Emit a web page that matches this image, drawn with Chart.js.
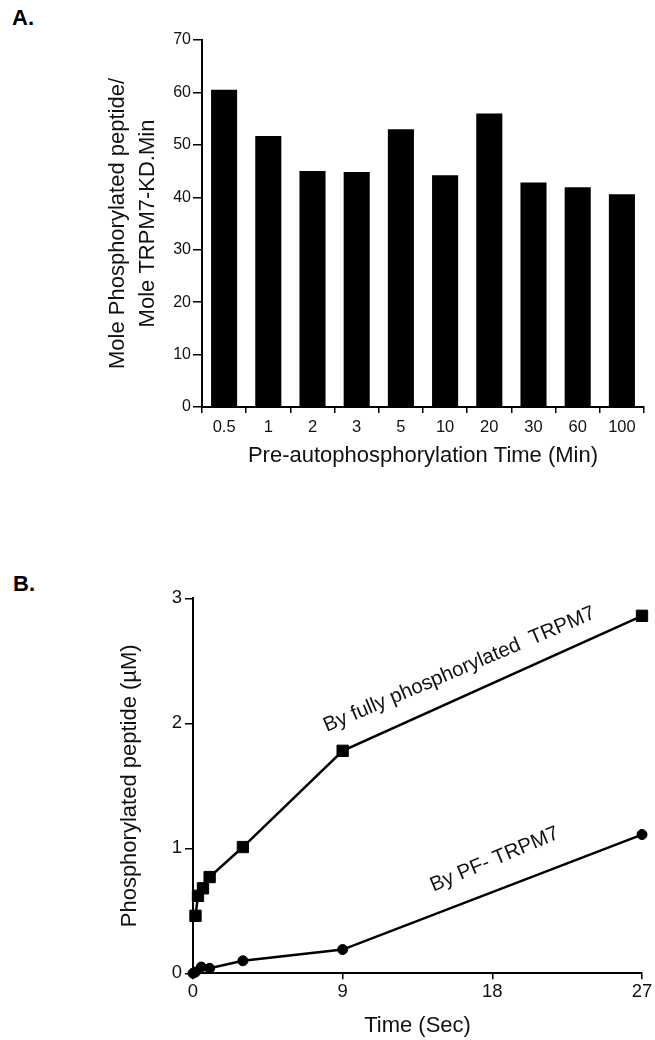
<!DOCTYPE html>
<html>
<head>
<meta charset="utf-8">
<script src="https://cdn.jsdelivr.net/npm/chart.js@4.4.1/dist/chart.umd.min.js"></script>
<style>
  html, body { margin: 0; padding: 0; background: #fff; }
  body { width: 655px; height: 1040px; position: relative; overflow: hidden; font-family: Arial, "Liberation Sans", sans-serif; }
  .panel { position: absolute; left: 0; width: 655px; }
  #wrapA { top: 0; height: 480px; }
  #wrapB { top: 540px; height: 500px; }
  .lbl { position: absolute; font-weight: bold; font-size: 22px; color: #000; line-height: 1; }
</style>
</head>
<body>
<div class="lbl" style="left:12px; top:7px;">A.</div>
<div class="lbl" style="left:13px; top:573px;">B.</div>
<div id="wrapA" class="panel"><canvas id="chartA" width="655" height="480"></canvas></div>
<div id="wrapB" class="panel"><canvas id="chartB" width="655" height="500"></canvas></div>
<script>
// ---------- Panel A data ----------
const preTimes = ['0.5', '1', '2', '3', '5', '10', '20', '30', '60', '100'];
const moleRate = [60.5, 51.7, 45.0, 44.8, 53.0, 44.2, 56.0, 42.8, 41.9, 40.6];
const yTicksA = [0, 10, 20, 30, 40, 50, 60, 70];

// ---------- Panel B data ----------
const fullTimes = [0.15, 0.3, 0.6, 1, 3, 9, 27];
const fullValues = [0.46, 0.62, 0.68, 0.77, 1.01, 1.78, 2.86];
const pfTimes = [0, 0.15, 0.5, 1, 3, 9, 27];
const pfValues = [0, 0.01, 0.05, 0.04, 0.10, 0.19, 1.11];
const xTicksB = [0, 9, 18, 27];
const yTicksB = [0, 1, 2, 3];
const annoText = ['By fully phosphorylated  TRPM7', 'By PF- TRPM7'];
const annoX = [8.05, 14.46];
const annoY = [1.93, 0.653];

const FONT = 'Arial, "Liberation Sans", sans-serif';
const TXT = '#111';

new Chart(document.getElementById('chartA'), {
  type: 'bar',
  data: {
    labels: preTimes,
    datasets: [{
      data: moleRate,
      backgroundColor: '#000',
      borderWidth: 0,
      barPercentage: 0.59,
      categoryPercentage: 1.0
    }]
  },
  options: {
    responsive: false,
    animation: false,
    events: [],
    layout: { padding: { left: 0, right: 11, top: 40, bottom: 0 } },
    plugins: { legend: { display: false }, tooltip: { enabled: false } },
    scales: {
      x: {
        offset: true,
        grid: { offset: true, drawOnChartArea: false, drawTicks: true, tickLength: 6, color: '#000', lineWidth: 1.5 },
        border: { color: '#000', width: 2 },
        ticks: { color: TXT, font: { family: FONT, size: 16.5 }, padding: 5, maxRotation: 0 },
        title: { display: true, text: 'Pre-autophosphorylation Time (Min)', color: TXT,
                 font: { family: FONT, size: 22 }, padding: { top: 0, bottom: 10.8 } },
        afterFit: s => { s.height = 73; }
      },
      y: {
        min: 0, max: 70,
        afterBuildTicks: s => { s.ticks = yTicksA.map(v => ({ value: v })); },
        grid: { drawOnChartArea: false, drawTicks: true, tickLength: 9, color: '#000', lineWidth: 1.5 },
        border: { color: '#000', width: 2 },
        ticks: { color: TXT, font: { family: FONT, size: 16 }, padding: 2 },
        title: { display: true, text: ['Mole Phosphorylated peptide/', 'Mole TRPM7-KD.Min'], color: TXT,
                 font: { family: FONT, size: 22, lineHeight: 1.364 }, padding: { top: 103, bottom: 0 } },
        afterFit: s => { s.width = 202; }
      }
    }
  }
});

const annoPlugin = {
  id: 'anno',
  afterDatasetsDraw(chart) {
    const { ctx, scales } = chart;
    ctx.save();
    ctx.fillStyle = TXT;
    ctx.font = '20.5px ' + FONT;
    ctx.textAlign = 'left';
    ctx.textBaseline = 'alphabetic';
    annoText.forEach((t, i) => {
      const px = scales.x.getPixelForValue(annoX[i]);
      const py = scales.y.getPixelForValue(annoY[i]);
      ctx.save();
      ctx.translate(px, py);
      ctx.rotate(-23 * Math.PI / 180);
      ctx.fillText(t, 0, 0);
      ctx.restore();
    });
    ctx.restore();
  }
};

new Chart(document.getElementById('chartB'), {
  type: 'scatter',
  data: {
    datasets: [
      {
        data: fullTimes.map((t, i) => ({ x: t, y: fullValues[i] })),
        showLine: true,
        borderColor: '#000',
        backgroundColor: '#000',
        borderWidth: 2.5,
        pointStyle: 'rect',
        pointRadius: 8,
        pointBorderWidth: 1,
        clip: false
      },
      {
        data: pfTimes.map((t, i) => ({ x: t, y: pfValues[i] })),
        showLine: true,
        borderColor: '#000',
        backgroundColor: '#000',
        borderWidth: 2.5,
        pointStyle: 'circle',
        pointRadius: 5,
        pointBorderWidth: 1,
        clip: false
      }
    ]
  },
  options: {
    responsive: false,
    animation: false,
    events: [],
    layout: { padding: { left: 0, right: 13, top: 58.3, bottom: 0 } },
    plugins: { legend: { display: false }, tooltip: { enabled: false } },
    scales: {
      x: {
        type: 'linear', min: 0, max: 27,
        afterBuildTicks: s => { s.ticks = xTicksB.map(v => ({ value: v })); },
        grid: { drawOnChartArea: false, drawTicks: true, tickLength: 6, color: '#000', lineWidth: 1.5 },
        border: { color: '#000', width: 2 },
        ticks: { color: TXT, font: { family: FONT, size: 18.5 }, padding: 2, maxRotation: 0 },
        title: { display: true, text: 'Time (Sec)', color: TXT,
                 font: { family: FONT, size: 22 }, padding: { top: 0, bottom: 0.8 } },
        afterFit: s => { s.height = 66.7; }
      },
      y: {
        type: 'linear', min: 0, max: 3,
        afterBuildTicks: s => { s.ticks = yTicksB.map(v => ({ value: v })); },
        grid: { drawOnChartArea: false, drawTicks: true, tickLength: 8, color: '#000', lineWidth: 1.5 },
        border: { color: '#000', width: 2 },
        ticks: { color: TXT, font: { family: FONT, size: 18.5 }, padding: 3 },
        title: { display: true, text: 'Phosphorylated peptide (µM)', color: TXT,
                 font: { family: FONT, size: 22 }, padding: { top: 116.8, bottom: 0 } },
        afterFit: s => { s.width = 193; }
      }
    }
  },
  plugins: [annoPlugin]
});
</script>
</body>
</html>
